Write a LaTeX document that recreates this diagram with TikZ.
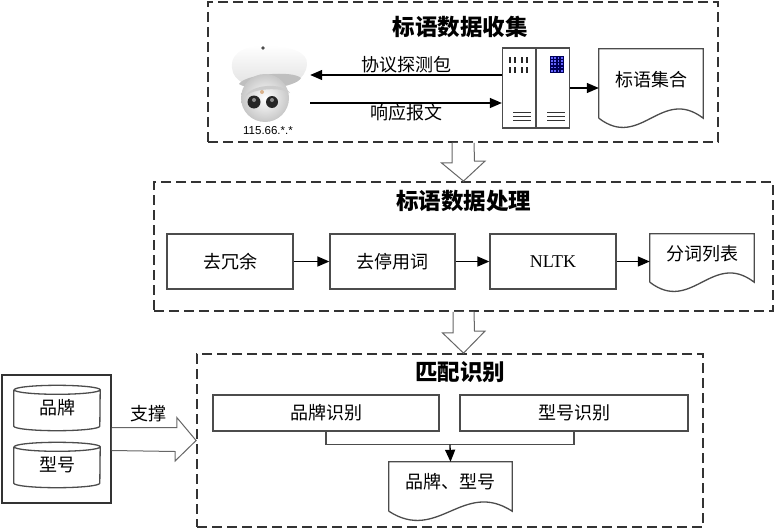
\documentclass[tikz,border=0pt]{standalone}
\usepackage{fontspec}
\setmainfont{Liberation Serif}
\newfontfamily\cjk{Noto Sans CJK SC}
\newfontfamily\lat{Liberation Sans}
\usetikzlibrary{arrows.meta,calc,positioning}

\tikzset{
  frame/.style={draw=black!80, line width=1.8pt, dash pattern=on 10pt off 5pt, inner sep=0pt},
  title/.style={font=\cjk\bfseries\fontsize{22.5}{25}\selectfont},
  stepbox/.style={draw=black!70, line width=1.3pt, inner sep=0pt, font=\cjk\fontsize{18}{21}\selectfont},
  docbox/.style={inner sep=0pt, font=\cjk\fontsize{18}{21}\selectfont},
  lbl/.style={font=\cjk\fontsize{18}{21}\selectfont, inner sep=1pt},
  arr/.style={line width=1.3pt, -{Triangle[length=12pt,width=10pt]}},
  fat/.style={draw=black!60, line width=1pt, fill=white},
  outline/.style={draw=black!70, line width=1.3pt}
}
% document shape with wavy bottom
\newcommand\docline[1]{\draw[outline] (#1.south west) -- (#1.north west) -- (#1.north east) -- (#1.south east)
  .. controls ($(#1.south east)!0.4!(#1.south west)+(0,-32)$) and ($(#1.south west)!0.4!(#1.south east)+(0,32)$) .. (#1.south west);}
% drum with elliptic ends
\newcommand\drum[1]{\draw[outline] (#1.north west) -- (#1.south west) arc (180:360:43pt and 4.5pt) -- (#1.north east)
  arc (0:180:43pt and 4.5pt) arc (180:360:43pt and 4.5pt);}

\begin{document}
\begin{tikzpicture}[x=1pt,y=-1pt]
  \useasboundingbox (0,0) rectangle (776,530);

  % stage 1
  \node[frame, minimum width=510pt, minimum height=140pt] (collect) at (463,72) {};
  \node[title] (t1) at (460,27) {标语数据收集};

  \node[minimum width=84pt, minimum height=76pt, inner sep=0pt] (cam) at (268,84) {};
  \shade[top color=white, bottom color=black!12] (232,68) .. controls (230,50) and (250,45) .. (268,46)
    .. controls (290,46) and (308,52) .. (307,64) .. controls (306,80) and (290,88) .. (270,88)
    .. controls (250,88) and (233,82) .. (232,68);
  \fill[black!25] (239,84) .. controls (245,74) and (292,70) .. (301,78) .. controls (296,88) and (250,92) .. (239,84);
  \shade[inner color=white, outer color=black!22] (265,98) circle (24pt);
  \fill[black!20] (245,97) .. controls (250,84) and (283,82) .. (290,93) .. controls (282,87) and (252,88) .. (245,97);
  \fill[black!85] (254,102) circle (6.5pt);
  \fill[black!85] (272,102) circle (6pt);
  \fill[black!45] (254,100) circle (2pt);
  \fill[black!45] (272,100) circle (2pt);
  \fill[brown!60] (262,92) circle (2pt);
  \fill[black!70] (263,48) circle (1.8pt);
  \node[font=\lat\fontsize{11.5}{12}\selectfont, inner sep=0pt] (ip) at (268,131) {115.66.*.*};

  \node[outline, minimum width=67pt, minimum height=80pt, inner sep=0pt] (srv) at (536,88) {};
  \draw[outline] (srv.north) -- (srv.south);
  \foreach \x in {510,515,522,527}
    \draw[line width=1.6pt, black!85] (\x,57) -- (\x,63) (\x,67) -- (\x,73);
  \foreach \y in {112,116,120}
    \draw[line width=1pt, black!80] (513,\y) -- (531,\y) (547,\y) -- (565,\y);
  \fill[blue!35!black] (550,56) rectangle (564,73);
  \foreach \i in {0,...,3}
    \foreach \j in {0,...,4}
      \fill[blue!60!white] (551+3.3*\i,57+3.2*\j) rectangle ++(1.8,1.8);

  \node[docbox, minimum width=104pt, minimum height=69pt] (tags) at (651,83.5) {};
  \node[docbox] at (651,80) {标语集合};
  \docline{tags}

  \draw[arr] ([yshift=13pt]srv.west) -- ([yshift=13pt]srv.west -| cam.east) node[midway, above, lbl] {协议探测包};
  \draw[arr] ([yshift=-15pt]srv.west -| cam.east) -- ([yshift=-15pt]srv.west) node[midway, below, lbl] {响应报文};
  \draw[arr] (srv.east) -- (srv.east -| tags.west);

  % stage 2
  \node[frame, minimum width=619pt, minimum height=129pt] (process) at (463.5,246.5) {};
  \node[title] (t2) at (463.5,201) {标语数据处理};

  \node[stepbox, minimum width=126pt, minimum height=55pt] (dedup) at (230,261.5) {去冗余};
  \node[stepbox, minimum width=125pt, minimum height=55pt] (stopw) at (392.5,261.5) {去停用词};
  \node[stepbox, minimum width=126pt, minimum height=55pt, font=\fontsize{18}{21}\selectfont] (nltk) at (553,261.5) {NLTK};
  \node[docbox, minimum width=104pt, minimum height=48pt] (seg) at (702,258) {};
  \node[docbox] at (702,254) {分词列表};
  \docline{seg}

  \draw[arr] (dedup) -- (stopw);
  \draw[arr] (stopw) -- (nltk);
  \draw[arr] (nltk) -- (nltk -| seg.west);

  \draw[fat] ([xshift=-11pt]collect.south) -- ++(0,20) -- ++(-10.5,0) -- (process.north)
    -- ++(21.5,-20) -- ++(-10.5,0) -- ([xshift=11pt]collect.south);

  % stage 3
  \node[frame, minimum width=506pt, minimum height=173pt] (match) at (450,440.5) {};
  \node[title] (t3) at (460,372) {匹配识别};

  \node[stepbox, minimum width=226pt, minimum height=36pt] (brand) at (326,413) {品牌识别};
  \node[stepbox, minimum width=228pt, minimum height=36pt] (model) at (574,413) {型号识别};
  \node[docbox, minimum width=123pt, minimum height=49pt] (res) at (450.5,486.5) {};
  \node[docbox] at (450.5,482) {品牌、型号};
  \docline{res}

  \coordinate (fork) at ($(brand.south)!.5!(model.south)+(0,13)$);
  \draw[outline] (brand.south) |- (fork) -| (model.south);
  \draw[arr] (fork) -- (res.north);

  \draw[fat] ([xshift=-10.5pt]process.south) -- ++(0,21) -- ++(-10.5,0) -- (process.south |- match.north)
    -- ++(21.5,-22) -- ++(-10.5,0) -- ([xshift=10.5pt]process.south);

  % knowledge base
  \node[draw=black!80, line width=1.6pt, minimum width=109pt, minimum height=128pt, inner sep=0pt] (kb) at (56.5,439) {};
  \node[docbox, minimum width=86pt, minimum height=36pt] (kbrand) at (57,408) {品牌};
  \drum{kbrand}
  \node[docbox, minimum width=86pt, minimum height=36pt] (kmodel) at (57,465) {型号};
  \drum{kmodel}

  \draw[fat] ([yshift=11.5pt]kb.east) -- ++(65,0) -- ++(0,-10) -- (match.west)
    -- ++(-21,20.5) -- ++(0,-9.5) -- ([yshift=-11.5pt]kb.east);
  \node[lbl] (supp) at (148,414) {支撑};
\end{tikzpicture}
\end{document}
